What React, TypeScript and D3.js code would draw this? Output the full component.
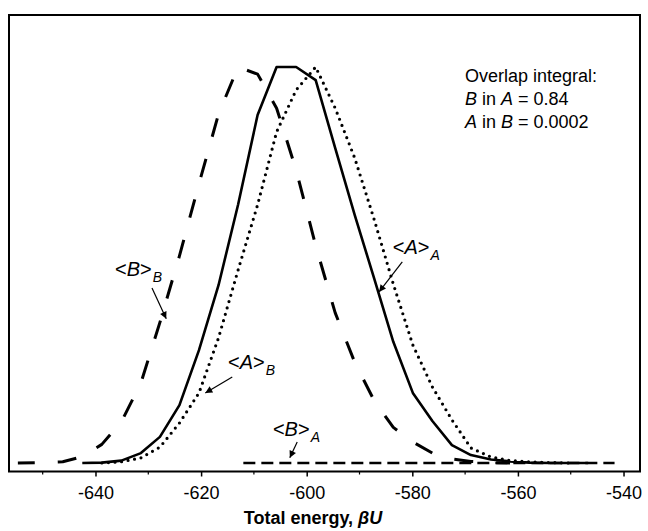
import * as React from 'react';
import * as d3 from 'd3';

// energy grid (beta U) and normalised distributions
const energyAA = [-642.5, -638.8, -635.1, -631.4, -627.8, -624.1, -620.4, -616.7, -613.0, -609.3, -605.7, -602.0, -598.3, -594.6, -590.9, -587.2, -583.6, -579.9, -576.2, -572.5, -568.9, -565.1, -561.5, -557.8, -554.1, -550.4, -546.7];
const probAA = [0, 0.1, 0.6, 2.5, 6.6, 14.6, 28.5, 44.9, 65.2, 87.9, 100, 100, 96.7, 79.5, 62.6, 46.5, 30.6, 17.7, 10.6, 4.5, 2.0, 0.9, 0.4, 0.1, 0, 0, 0];

const energyAB = [-638.8, -635.1, -631.4, -627.8, -624.1, -620.4, -616.7, -613.0, -609.3, -605.7, -602.0, -598.3, -594.6, -590.9, -587.2, -583.6, -579.9, -576.2, -572.5, -568.9, -565.1, -561.5, -557.8, -554.1, -550.4];
const probAB = [0, 0.3, 1.3, 4.0, 10.1, 17.7, 31.6, 48.7, 65.2, 83.6, 94.2, 100, 89.6, 77.0, 61.4, 45.2, 29.8, 19.2, 10.9, 3.8, 1.5, 0.6, 0.3, 0.1, 0];

const energyBB = [-654.7, -649.9, -646.2, -642.5, -638.8, -635.1, -631.4, -627.8, -624.1, -620.4, -616.7, -613.0, -609.3, -605.7, -602.0, -598.3, -594.6, -590.9, -587.2, -583.6, -579.9, -576.2, -572.5, -568.9, -565.1, -561.5];
const probBB = [0, 0.1, 0.3, 1.6, 4.7, 10.4, 20.2, 35.5, 52.3, 70.5, 88.1, 100, 98.2, 89.6, 74.0, 54.9, 37.9, 25.4, 15.7, 9.0, 5.3, 2.5, 1.0, 0.4, 0.1, 0];

const energyBA = [-612.0, -605.7, -598.3, -590.9, -583.6, -576.2, -568.9, -561.5, -554.1, -546.7, -541.7];
const probBA = [0, 0, 0, 0, 0, 0, 0, 0, 0, 0, 0];

const majorTicks = [-640, -620, -600, -580, -560, -540];
const minorTicks = [-650, -630, -610, -590, -570, -550];

type Series = { key: string; xs: number[]; ys: number[]; dash: number[]; width: number; cap: string };
const series: Series[] = [
  { key: 'BB', xs: energyBB, ys: probBB, dash: [19, 23], width: 3, cap: 'butt' },
  { key: 'BA', xs: energyBA, ys: probBA, dash: [12, 6], width: 2.6, cap: 'butt' },
  { key: 'AB', xs: energyAB, ys: probAB, dash: [0, 6.6], width: 3.2, cap: 'round' },
  { key: 'AA', xs: energyAA, ys: probAA, dash: [], width: 2.6, cap: 'butt' },
];

// label: main letter, subscript, label position and arrow (tail -> head) in data units
const labels = [
  { main: 'B', sub: 'B', at: [-636.3, 47.2], from: [-629.3, 44.2], to: [-626.6, 36.4] },
  { main: 'A', sub: 'B', at: [-614.9, 23.7], from: [-614.1, 21.7], to: [-619.2, 17.7] },
  { main: 'B', sub: 'A', at: [-606.4, 6.8], from: [-601.8, 5.3], to: [-603.2, 1.3] },
  { main: 'A', sub: 'A', at: [-583.7, 52.8], from: [-581.9, 50.8], to: [-586.3, 43.2] },
];

const overlapTitle = 'Overlap integral:';
const overlapRows = [
  { a: 'B', b: 'A', value: '0.84' },
  { a: 'A', b: 'B', value: '0.0002' },
];

const W = 648;
const H = 531;
const frame = { left: 9, right: 640, top: 15, bottom: 471.5 };
const FONT = '"Liberation Sans", Arial, Helvetica, sans-serif';

export default function App() {
  const ref = React.useRef<SVGSVGElement>(null);

  React.useEffect(() => {
    const el = ref.current;
    if (!el) { return; }
    el.innerHTML = '';
    const svg = d3.select(el);

    const x = d3.scaleLinear().domain([-656.38, -536.88]).range([frame.left, frame.right]);
    const y = d3.scaleLinear().domain([0, 100]).range([463, 67]);

    svg.append('defs').append('marker')
      .attr('id', 'arrow')
      .attr('viewBox', '0 0 10 10')
      .attr('refX', 10)
      .attr('refY', 5)
      .attr('markerWidth', 9)
      .attr('markerHeight', 7)
      .attr('markerUnits', 'userSpaceOnUse')
      .attr('orient', 'auto')
      .append('path')
        .attr('d', 'M0,0 L10,5 L0,10 z')
        .attr('fill', '#000');

    const line = d3.line<[number, number]>()
      .x(d => x(d[0]))
      .y(d => y(d[1]));

    // shift the dash pattern so the peak of a dashed curve falls in a gap, as in the original
    const dashOffset = (s: Series) => {
      if (s.dash.length === 0 || s.dash[0] === 0) { return 0; }
      const peak = s.ys.indexOf(d3.max(s.ys)!);
      if (s.ys[peak] === 0) { return 0; }
      let len = 0;
      for (let i = 1; i <= peak; i++) {
        len += Math.hypot(x(s.xs[i]) - x(s.xs[i - 1]), y(s.ys[i]) - y(s.ys[i - 1]));
      }
      const period = s.dash[0] + s.dash[1];
      const want = s.dash[0] + s.dash[1] / 2 + 2;
      return ((want - len) % period + period) % period;
    };

    svg.append('g')
      .selectAll('path')
      .data(series)
      .enter().append('path')
        .attr('d', s => line(s.xs.map((v, i) => [v, s.ys[i]] as [number, number])))
        .attr('fill', 'none')
        .attr('stroke', '#000')
        .attr('stroke-width', s => s.width)
        .attr('stroke-dasharray', s => s.dash.length ? s.dash.join(' ') : null)
        .attr('stroke-dashoffset', s => dashOffset(s))
        .attr('stroke-linecap', s => s.cap)
        .attr('stroke-linejoin', 'round');

    // frame
    svg.append('rect')
      .attr('x', frame.left)
      .attr('y', frame.top)
      .attr('width', frame.right - frame.left)
      .attr('height', frame.bottom - frame.top)
      .attr('fill', 'none')
      .attr('stroke', '#000')
      .attr('stroke-width', 2);

    // x axis
    const axis = svg.append('g').attr('transform', `translate(0,${frame.bottom})`);
    axis.call(d3.axisBottom(x).tickValues(majorTicks).tickSize(5).tickFormat(d => String(d)))
      .call(g => g.select('.domain').remove())
      .call(g => g.selectAll('line').attr('stroke-width', 1.5))
      .call(g => g.selectAll('text')
        .attr('font-family', FONT)
        .attr('font-size', 18)
        .attr('dy', 0)
        .attr('y', 27)
        .attr('fill', '#000'));
    axis.append('g')
      .selectAll('line')
      .data(minorTicks)
      .enter().append('line')
        .attr('x1', d => x(d))
        .attr('x2', d => x(d))
        .attr('y1', 0)
        .attr('y2', 3)
        .attr('stroke', '#000')
        .attr('stroke-width', 1.2);

    const title = svg.append('text')
      .attr('x', 313)
      .attr('y', 524)
      .attr('text-anchor', 'middle')
      .attr('font-family', FONT)
      .attr('font-size', 18)
      .attr('font-weight', 'bold');
    title.append('tspan').text('Total energy, ');
    title.append('tspan').attr('font-style', 'italic').text('\u03B2U');

    // curve labels and arrows
    const lab = svg.append('g').attr('font-family', FONT);
    labels.forEach(l => {
      const t = lab.append('text')
        .attr('x', x(l.at[0]))
        .attr('y', y(l.at[1]))
        .attr('font-size', 20);
      t.append('tspan').text('<');
      t.append('tspan').attr('font-style', 'italic').text(l.main);
      t.append('tspan').text('>');
      t.append('tspan').attr('font-style', 'italic').attr('font-size', 14).attr('dx', 1).attr('dy', 6).text(l.sub);
      lab.append('line')
        .attr('x1', x(l.from[0]))
        .attr('y1', y(l.from[1]))
        .attr('x2', x(l.to[0]))
        .attr('y2', y(l.to[1]))
        .attr('stroke', '#000')
        .attr('stroke-width', 1.2)
        .attr('marker-end', 'url(#arrow)');
    });

    // overlap integral box
    const box = svg.append('g')
      .attr('font-family', FONT)
      .attr('font-size', 18)
      .attr('transform', 'translate(465,0)');
    box.append('text').attr('y', 82).text(overlapTitle);
    overlapRows.forEach((r, i) => {
      const t = box.append('text').attr('y', 105 + i * 23);
      t.append('tspan').attr('font-style', 'italic').text(r.a);
      t.append('tspan').text(' in ');
      t.append('tspan').attr('font-style', 'italic').text(r.b);
      t.append('tspan').text(` = ${r.value}`);
    });
  }, []);

  return (
    <svg ref={ref} width={W} height={H}
      style={{ position: 'absolute', left: 0, top: 0, background: '#fff' }} />
  );
}
